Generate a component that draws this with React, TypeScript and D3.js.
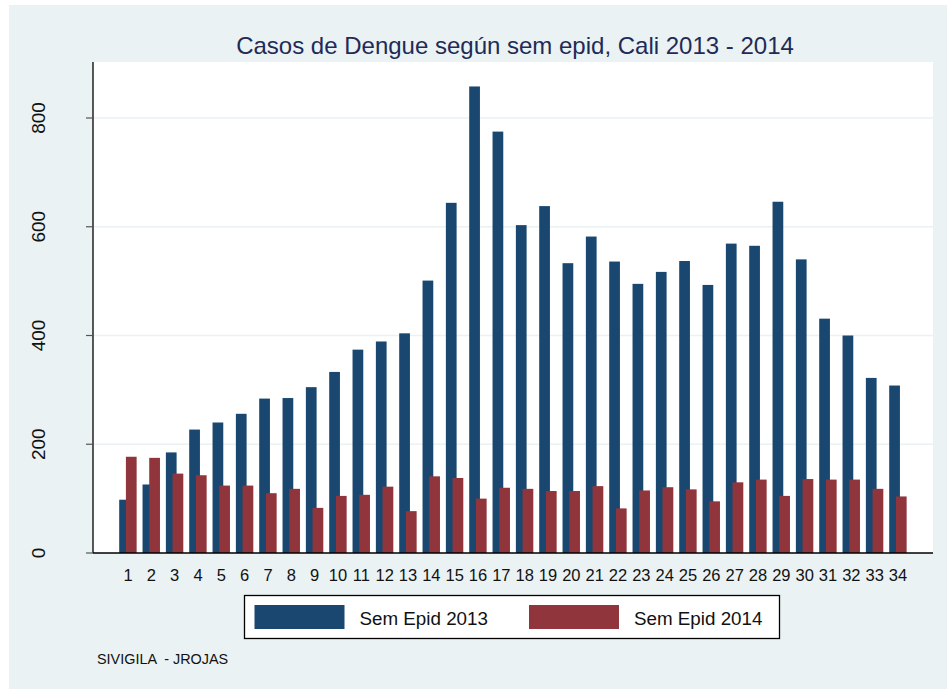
import { useEffect, useRef } from "react";
import * as d3 from "d3";

// semanas epidemiologicas 1..34
const semanas = d3.range(1, 35).map(String);
const casos2013 = [
  98, 126, 185, 227, 240, 256, 284, 285, 305, 333, 374, 389, 404, 501, 644,
  858, 775, 603, 638, 533, 582, 536, 495, 517, 537, 493, 569, 565, 646, 540,
  431, 400, 322, 308,
];
const casos2014 = [
  177, 175, 146, 143, 124, 124, 110, 118, 83, 105, 107, 122, 77, 141, 138,
  100, 120, 118, 114, 114, 123, 82, 115, 121, 117, 95, 130, 135, 105, 136,
  135, 135, 118, 104,
];
const yTicks = [0, 200, 400, 600, 800];
const series = ["Sem Epid 2013", "Sem Epid 2014"];
const colors = ["#1a476f", "#90353b"];

export default function App() {
  const svgElem = useRef<SVGSVGElement>(null);

  useEffect(() => {
    const width = 947;
    const height = 689;
    const font = "'Liberation Sans', Arial, sans-serif";
    const svg = d3.select(svgElem.current);
    svg.selectAll("*").remove();
    svg.attr("width", width).attr("height", height);

    svg.append("rect").attr("width", width).attr("height", height).attr("fill", "#fff");
    svg
      .append("rect")
      .attr("x", 9)
      .attr("y", 5)
      .attr("width", width - 9)
      .attr("height", height - 5)
      .attr("fill", "#eaf2f3");

    const left = 93,
      right = 933,
      top = 62,
      bottom = 553;

    svg
      .append("rect")
      .attr("x", left)
      .attr("y", top)
      .attr("width", right - left)
      .attr("height", bottom - top)
      .attr("fill", "#fff");

    const x = d3
      .scaleBand()
      .domain(semanas)
      .range([left, right])
      .paddingInner(0)
      .paddingOuter(1);
    const y = d3.scaleLinear().domain([0, 903]).range([bottom, top]);
    const bw = x.bandwidth();
    const barW = bw * 0.46;

    // grid
    svg
      .append("g")
      .selectAll("line")
      .data(yTicks.filter((d) => d > 0))
      .join("line")
      .attr("x1", left)
      .attr("x2", right)
      .attr("y1", (d) => y(d))
      .attr("y2", (d) => y(d))
      .attr("stroke", "#eaf2f3")
      .attr("stroke-width", 1.6);

    // bars 2013
    svg
      .append("g")
      .selectAll("rect")
      .data(casos2013)
      .join("rect")
      .attr("x", (d, i) => x(semanas[i])! + bw * 0.123)
      .attr("y", (d) => y(d))
      .attr("width", barW)
      .attr("height", (d) => bottom - y(d))
      .attr("fill", colors[0]);

    // bars 2014 (drawn on top, overlapping)
    svg
      .append("g")
      .selectAll("rect")
      .data(casos2014)
      .join("rect")
      .attr("x", (d, i) => x(semanas[i])! + bw * 0.41)
      .attr("y", (d) => y(d))
      .attr("width", barW)
      .attr("height", (d) => bottom - y(d))
      .attr("fill", colors[1]);

    // axes lines
    svg
      .append("line")
      .attr("x1", left)
      .attr("x2", left)
      .attr("y1", top)
      .attr("y2", bottom)
      .attr("stroke", "#000")
      .attr("stroke-width", 1.3);
    svg
      .append("line")
      .attr("x1", left)
      .attr("x2", right)
      .attr("y1", bottom)
      .attr("y2", bottom)
      .attr("stroke", "#000")
      .attr("stroke-width", 1.3);

    // y ticks + labels
    const yg = svg.append("g");
    yg.selectAll("line")
      .data(yTicks)
      .join("line")
      .attr("x1", left - 7)
      .attr("x2", left)
      .attr("y1", (d) => y(d))
      .attr("y2", (d) => y(d))
      .attr("stroke", "#555")
      .attr("stroke-width", 1.2);
    yg.selectAll("text")
      .data(yTicks)
      .join("text")
      .attr("transform", (d) => `translate(45,${y(d)}) rotate(-90)`)
      .attr("text-anchor", "middle")
      .attr("font-family", font)
      .attr("font-size", 19)
      .attr("fill", "#111")
      .text((d) => d);

    // x labels
    svg
      .append("g")
      .selectAll("text")
      .data(semanas)
      .join("text")
      .attr("x", (d) => x(d)! + bw / 2)
      .attr("y", 581)
      .attr("text-anchor", "middle")
      .attr("font-family", font)
      .attr("font-size", 16.5)
      .attr("fill", "#111")
      .text((d) => d);

    // title
    svg
      .append("text")
      .attr("x", 515)
      .attr("y", 54)
      .attr("text-anchor", "middle")
      .attr("font-family", font)
      .attr("font-size", 24)
      .attr("fill", "#1f2b57")
      .text("Casos de Dengue según sem epid, Cali 2013 - 2014");

    // legend
    const lg = svg.append("g");
    lg.append("rect")
      .attr("x", 244.5)
      .attr("y", 595.5)
      .attr("width", 535)
      .attr("height", 43)
      .attr("fill", "#fff")
      .attr("stroke", "#000")
      .attr("stroke-width", 1.3);
    const swX = [254.5, 529];
    series.forEach((s, i) => {
      lg.append("rect")
        .attr("x", swX[i])
        .attr("y", 605)
        .attr("width", 90)
        .attr("height", 24)
        .attr("fill", colors[i]);
      lg.append("text")
        .attr("x", swX[i] + 105)
        .attr("y", 624.5)
        .attr("font-family", font)
        .attr("font-size", 18.8)
        .attr("fill", "#111")
        .text(s);
    });

    // nota
    svg
      .append("text")
      .attr("x", 97)
      .attr("y", 664)
      .attr("font-family", font)
      .attr("font-size", 14.4)
      .attr("fill", "#111")
      .attr("xml:space", "preserve")
      .style("white-space", "pre")
      .text("SIVIGILA  - JROJAS");
  }, []);

  return (
    <svg
      ref={svgElem}
      style={{ position: "absolute", left: 0, top: 0, display: "block" }}
    ></svg>
  );
}
